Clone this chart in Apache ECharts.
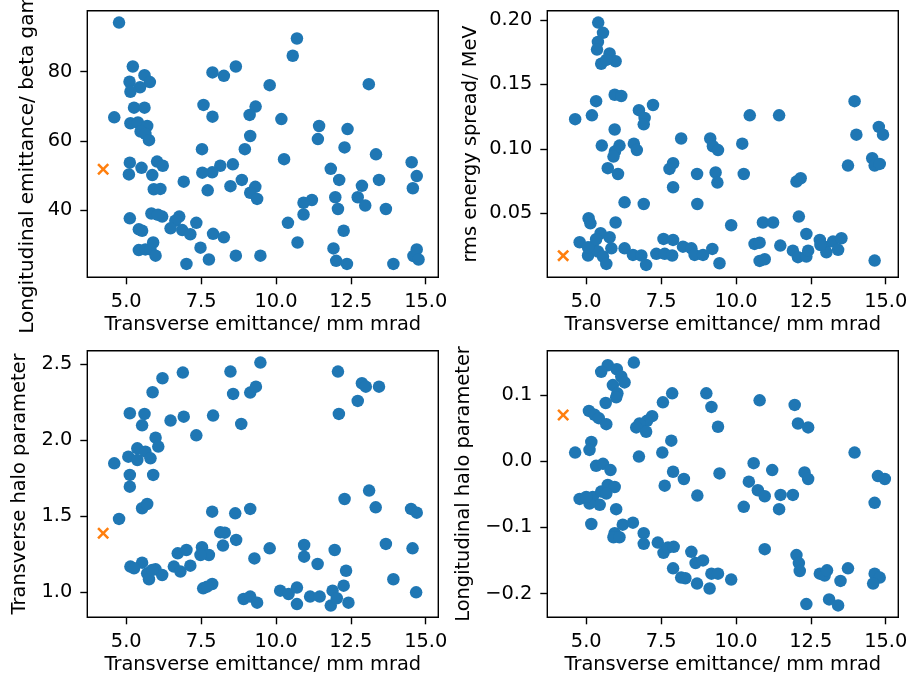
<!DOCTYPE html>
<html>
<head>
<meta charset="utf-8">
<script src="https://cdn.jsdelivr.net/npm/echarts@6/dist/echarts.min.js"></script>
<style>
  html, body { margin: 0; padding: 0; background: #fff; }
  #chart { width: 908px; height: 681px; }
</style>
</head>
<body>
<div id="chart"></div>
<script>
// Transverse emittance (mm mrad) shared as the abscissa of all four scans
const xTickValues = [5, 7.5, 10, 12.5, 15];

// Longitudinal emittance vs transverse emittance
const longEmitX = [4.76,10.70,10.56,5.22,8.66,7.88,8.26,5.61,5.79,5.11,
  5.46,5.14,9.79,13.10,7.58,9.32,9.12,5.26,5.61,7.88,
  4.60,10.18,11.44,12.39,5.14,5.39,5.70,5.48,5.64,5.76,
  9.14,11.40,7.53,8.96,12.29,13.34,10.27,5.12,6.03,6.22,
  5.51,14.53,8.56,8.14,7.87,7.54,5.09,5.87,11.83,14.70,
  12.11,13.44,6.92,8.86,9.31,8.48,12.87,5.92,6.14,7.72,
  14.57,9.14,9.37,11.20,10.92,12.73,12.98,11.98,12.07,13.67,
  5.84,6.20,6.06,5.12,6.77,6.64,7.34,10.92,10.40,5.42,
  5.53,6.48,6.87,7.14,12.26,7.90,8.26,10.72,5.90,5.42,
  5.64,5.81,5.98,7.48,11.92,7.76,8.66,9.48,7.01,12.01,
  12.37,13.92,14.59,14.70,14.76];
const longEmitY = [94.2,89.6,84.6,81.5,81.5,79.8,78.8,79.0,77.0,77.1,
  75.5,74.2,76.1,76.4,70.4,69.9,67.5,69.6,69.6,67.0,
  66.8,66.3,64.3,63.4,65.1,65.3,64.3,62.7,62.0,60.2,
  61.4,60.5,57.6,57.6,58.1,56.1,54.7,53.7,54.0,52.8,
  52.2,53.8,53.2,52.8,50.9,50.8,50.3,50.1,51.9,49.8,
  48.7,48.7,48.2,48.7,46.7,46.9,47.0,46.0,46.1,45.7,
  46.3,45.0,43.2,42.9,42.1,43.7,41.3,43.7,40.3,40.3,
  39.0,38.1,38.6,37.6,38.1,36.9,36.3,38.7,36.3,34.4,
  34.0,34.7,34.2,33.0,34.0,33.1,32.1,30.6,30.6,28.4,
  28.6,28.6,26.8,29.1,28.9,25.7,26.8,26.8,24.4,25.3,
  24.4,24.4,26.7,28.6,25.7];

// rms energy spread vs transverse emittance
const spreadX = [5.40,5.56,5.39,5.36,5.78,5.50,5.98,5.67,5.95,6.17,
  5.33,7.23,6.76,6.95,6.92,4.63,5.19,10.46,11.44,13.96,
  14.02,14.77,14.91,5.95,8.17,9.14,9.23,9.40,10.21,5.52,
  6.11,6.59,6.69,5.96,5.91,5.72,6.06,7.90,7.78,8.70,
  9.32,9.38,10.26,13.74,14.55,14.63,14.80,12.02,12.16,7.90,
  6.28,6.92,8.71,5.08,5.14,5.98,12.10,9.84,10.90,11.24,
  12.35,4.78,5.48,5.78,5.22,5.06,5.39,5.56,5.67,5.84,
  6.28,6.56,6.84,7.00,7.34,7.58,7.90,7.62,7.87,8.23,
  8.51,8.62,8.90,9.21,9.45,10.62,10.79,10.79,10.96,11.48,
  11.90,12.07,12.35,12.41,12.80,12.96,13.02,13.24,13.52,13.41,
  14.63,12.82,5.06,5.33];
const spreadY = [0.198,0.190,0.183,0.177,0.174,0.166,0.168,0.169,0.142,0.141,
  0.137,0.134,0.130,0.124,0.119,0.123,0.126,0.126,0.126,0.137,
  0.111,0.117,0.111,0.115,0.108,0.108,0.102,0.099,0.104,0.1025,
  0.1025,0.104,0.099,0.098,0.094,0.085,0.0805,0.0888,0.0844,0.0805,
  0.0816,0.0738,0.0805,0.087,0.0927,0.087,0.0883,0.0746,0.0772,0.0702,
  0.0585,0.0572,0.0572,0.0461,0.0422,0.0428,0.0474,0.0407,0.0428,0.0428,
  0.034,0.0275,0.0345,0.0314,0.0241,0.0172,0.0203,0.0164,0.0107,0.0228,
  0.0228,0.0177,0.0172,0.0099,0.0185,0.0301,0.0293,0.0185,0.0172,0.0241,
  0.0228,0.0177,0.0177,0.0223,0.0112,0.0262,0.0272,0.013,0.0143,0.0249,
  0.021,0.0159,0.0164,0.021,0.0293,0.0241,0.0197,0.028,0.0306,0.0216,
  0.0133,0.0254,0.0236,0.0298];

// Transverse halo parameter vs transverse emittance
const tHaloX = [9.48,6.89,8.48,12.07,6.21,5.88,8.57,9.14,9.33,12.87,
  13.00,13.44,12.73,5.12,5.61,5.53,6.48,6.92,7.90,8.84,
  12.10,7.34,5.98,6.07,5.07,5.37,5.64,5.37,5.81,4.60,
  5.90,5.12,5.12,5.53,5.70,4.76,7.87,8.64,9.14,12.29,
  13.11,13.33,14.51,14.70,8.14,8.29,8.23,8.67,9.79,10.94,
  10.94,11.96,13.67,14.56,6.72,7.01,7.53,7.76,7.48,9.28,
  5.14,5.53,5.98,5.70,6.20,5.76,6.59,6.81,7.14,11.39,
  12.34,7.57,7.87,7.70,8.92,9.14,9.37,10.14,10.42,10.70,
  10.70,11.14,11.46,11.89,11.83,12.03,12.26,12.42,13.92,14.68,
  5.26,5.87];
const tHaloY = [2.509,2.443,2.450,2.450,2.406,2.314,2.303,2.312,2.351,2.373,
  2.351,2.351,2.257,2.176,2.172,2.097,2.128,2.154,2.161,2.106,
  2.172,2.031,2.016,1.957,1.891,1.946,1.924,1.869,1.880,1.847,
  1.771,1.771,1.694,1.552,1.580,1.482,1.530,1.519,1.548,1.613,
  1.668,1.558,1.548,1.523,1.394,1.392,1.307,1.344,1.289,1.311,
  1.234,1.278,1.318,1.289,1.256,1.278,1.296,1.245,1.245,1.223,
  1.169,1.195,1.151,1.125,1.114,1.086,1.169,1.136,1.175,1.186,
  1.142,1.026,1.055,1.037,0.956,0.972,0.932,1.011,0.989,1.031,
  0.923,0.972,0.972,1.011,0.913,0.961,1.044,0.932,1.086,1.000,
  1.158,1.147];

// Longitudinal halo parameter vs transverse emittance
const lHaloX = [6.59,5.72,5.50,6.02,6.17,6.28,5.89,6.04,6.00,5.65,
  7.87,7.56,9.01,9.18,10.79,11.96,5.09,5.28,5.42,5.67,
  7.20,7.03,6.78,6.67,7.00,9.40,12.07,12.41,5.17,5.11,
  4.63,7.84,7.54,6.76,13.96,10.59,11.21,9.45,7.90,8.26,
  7.62,5.33,5.56,5.81,12.29,12.41,14.74,14.97,10.43,10.73,
  10.96,11.49,11.90,14.63,10.26,11.44,8.71,4.78,5.22,5.50,
  5.72,5.95,5.45,6.00,5.11,5.17,6.22,6.56,5.95,5.91,
  6.11,6.92,6.92,7.39,7.58,7.73,7.92,8.51,8.65,8.90,
  7.90,8.17,8.31,8.70,9.18,9.40,9.12,9.84,10.96,12.02,
  12.10,12.13,12.80,12.96,13.04,13.49,13.74,14.63,14.80,14.58,
  12.35,13.11,13.41,5.00,5.67];
const lHaloY = [0.149,0.145,0.135,0.139,0.128,0.119,0.115,0.1025,0.0965,0.088,
  0.1025,0.089,0.1025,0.082,0.092,0.085,0.076,0.070,0.065,0.056,
  0.068,0.061,0.057,0.051,0.0445,0.052,0.057,0.051,0.029,0.017,
  0.013,0.031,0.013,0.007,0.013,-0.003,-0.0135,-0.0185,-0.016,-0.027,
  -0.037,-0.007,-0.004,-0.0135,-0.017,-0.027,-0.0225,-0.027,-0.031,-0.044,
  -0.053,-0.051,-0.051,-0.063,-0.069,-0.0725,-0.052,-0.057,-0.054,-0.046,
  -0.036,-0.039,-0.066,-0.0725,-0.064,-0.095,-0.096,-0.093,-0.109,-0.115,
  -0.115,-0.109,-0.125,-0.123,-0.1385,-0.1305,-0.1295,-0.137,-0.154,-0.150,
  -0.162,-0.176,-0.177,-0.185,-0.170,-0.170,-0.1925,-0.179,-0.133,-0.142,
  -0.154,-0.166,-0.170,-0.173,-0.165,-0.181,-0.162,-0.170,-0.176,-0.185,
  -0.216,-0.209,-0.218,-0.054,-0.049];

// Reference working point, marked with a cross in every panel
const refX = 4.23;
const refY = [51.8, 0.0171, 1.388, 0.0697];

const FONT = 'DejaVu Sans';
const BLUE = '#1f77b4';
const ORANGE = '#ff7f0e';
const CROSS = 'path://M0,1.8L1.8,0L6,4.2L10.2,0L12,1.8L7.8,6L12,10.2L10.2,12L6,7.8L1.8,12L0,10.2L4.2,6Z';

const minus = s => s.replace('-', '\u2212');

const textStyle = { fontFamily: FONT, fontSize: 19.4, color: '#000' };

const panels = [
  { left: 87.3, top: 10.7, yMin: 20.54, yMax: 97.64, yTicks: [40, 60, 80],
    fmt: v => String(v), name: 'Longitudinal emittance/ beta gamma', gap: 50,
    nameStyle: { fontFamily: FONT, fontSize: 20, color: '#000', padding: [0, 8, 0, 0] },
    xs: longEmitX, ys: longEmitY },
  { left: 547.3, top: 10.7, yMin: 0.0003, yMax: 0.2072, yTicks: [0.05, 0.10, 0.15, 0.20],
    fmt: v => v.toFixed(2), name: 'rms energy spread/ MeV', gap: 67,
    nameStyle: textStyle, xs: spreadX, ys: spreadY },
  { left: 87.3, top: 350.7, yMin: 0.836, yMax: 2.587, yTicks: [1.0, 1.5, 2.0, 2.5],
    fmt: v => v.toFixed(1), name: 'Transverse halo parameter', gap: 58,
    nameStyle: textStyle, xs: tHaloX, ys: tHaloY },
  { left: 547.3, top: 350.7, yMin: -0.236, yMax: 0.167, yTicks: [-0.2, -0.1, 0.0, 0.1],
    fmt: v => minus(v.toFixed(1)), name: 'Longitudinal halo parameter', gap: 74,
    nameStyle: textStyle, xs: lHaloX, ys: lHaloY }
];

const tickStyle = { show: true, inside: false, length: 7, lineStyle: { color: '#000', width: 1.4 } };

const option = {
  animation: false,
  backgroundColor: '#fff',
  grid: panels.map(p => ({
    left: p.left, top: p.top, width: 351, height: 266.6,
    show: true, borderColor: '#000', borderWidth: 1.4, backgroundColor: 'transparent',
    containLabel: false, outerBoundsMode: 'none'
  })),
  xAxis: panels.map((p, i) => ({
    type: 'value', gridIndex: i, min: 3.70, max: 15.42,
    name: 'Transverse emittance/ mm mrad', nameLocation: 'middle', nameGap: 38.5,
    nameTextStyle: textStyle,
    axisLine: { show: false, onZero: false },
    splitLine: { show: false },
    axisTick: Object.assign({ customValues: xTickValues }, tickStyle),
    axisLabel: Object.assign({ customValues: xTickValues, margin: 15,
      formatter: v => v.toFixed(1) }, textStyle)
  })),
  yAxis: panels.map((p, i) => ({
    type: 'value', gridIndex: i, min: p.yMin, max: p.yMax,
    name: p.name, nameLocation: 'middle', nameGap: p.gap,
    nameTextStyle: p.nameStyle,
    axisLine: { show: false, onZero: false },
    splitLine: { show: false },
    axisTick: Object.assign({ customValues: p.yTicks }, tickStyle),
    axisLabel: Object.assign({ customValues: p.yTicks, margin: 15,
      formatter: v => p.fmt(v) }, textStyle)
  })),
  series: [].concat(
    panels.map((p, i) => ({
      type: 'scatter', xAxisIndex: i, yAxisIndex: i,
      symbol: 'circle', symbolSize: 12.5,
      itemStyle: { color: BLUE, opacity: 1 },
      data: p.xs.map((x, k) => [x, p.ys[k]]),
      z: 2
    })),
    panels.map((p, i) => ({
      type: 'scatter', xAxisIndex: i, yAxisIndex: i,
      symbol: CROSS, symbolSize: 12, symbolKeepAspect: true,
      itemStyle: { color: ORANGE, opacity: 1 },
      data: [[refX, refY[i]]],
      z: 3
    }))
  )
};

const chart = echarts.init(document.getElementById('chart'), null, { renderer: 'canvas' });
chart.setOption(option);
</script>
</body>
</html>
